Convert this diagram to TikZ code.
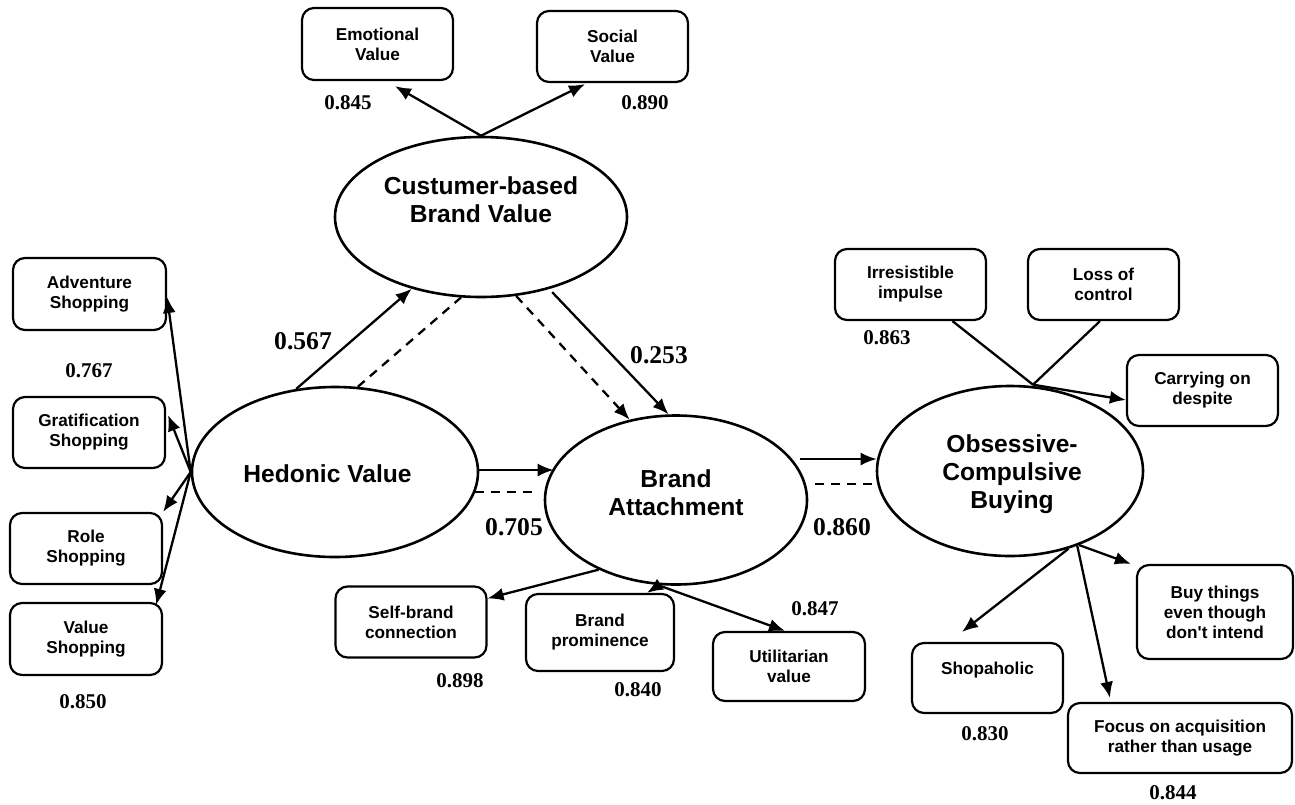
\documentclass[tikz,border=0pt]{standalone}
\usepackage{fontspec}
\setmainfont{Liberation Serif}
\setsansfont{Liberation Sans}[Ligatures=TeXOff]
\usetikzlibrary{arrows.meta,shapes.geometric}

\begin{document}
\begin{tikzpicture}[x=0.5pt,y=-0.5pt,
  ind/.style={draw,line width=1.1pt,rounded corners=6pt,align=center,inner sep=0pt,
    minimum width=75.5pt,minimum height=35.5pt,
    font=\sffamily\bfseries\fontsize{8.6}{10}\selectfont},
  lat/.style={draw,ellipse,line width=1.3pt,inner sep=0pt},
  lbl/.style={align=center,font=\sffamily\bfseries\fontsize{12.3}{14}\selectfont},
  num/.style={font=\bfseries\fontsize{10.5}{12}\selectfont},
  bignum/.style={font=\bfseries\fontsize{12.8}{14}\selectfont},
  arr/.style={line width=1.15pt,-{Latex[length=8pt,width=6.5pt]}},
  dsh/.style={line width=1.15pt,dash pattern=on 4.5pt off 3.5pt},
  lin/.style={line width=1.15pt}]
  \useasboundingbox (0,0) rectangle (1295,804);

  \node[lat,minimum width=146pt,minimum height=80pt,
    label={[lbl,yshift=8.5pt]center:{Custumer-based\\Brand Value}}] (cbv) at (481,217) {};
  \node[lat,minimum width=143pt,minimum height=85pt,
    label={[lbl,xshift=-3.75pt,yshift=-1pt]center:{Hedonic Value}}] (hed) at (335,472) {};
  \node[lat,minimum width=131pt,minimum height=84.5pt,
    label={[lbl,yshift=3.75pt]center:{Brand\\Attachment}}] (bat) at (676,500) {};
  \node[lat,minimum width=133pt,minimum height=85pt,
    label={[lbl,xshift=1pt,yshift=-1.5pt]center:{Obsessive-\\Compulsive\\Buying}}] (ocb) at (1010,471) {};

  \node[ind,minimum height=36pt] (emo) at (377.5,44) {Emotional\\Value};
  \node[ind] (soc) at (612.5,46.5) {Social\\Value};
  \node[ind,minimum width=76.5pt,minimum height=36pt] (adv) at (89.5,294) {Adventure\\Shopping};
  \node[ind,minimum width=76pt] (gra) at (89,432.5) {Gratification\\Shopping};
  \node[ind,minimum width=76pt] (rol) at (86,548.5) {Role\\Shopping};
  \node[ind,minimum width=76pt,minimum height=36pt] (val) at (86,639) {Value\\Shopping};
  \node[ind] (sbc) at (411,622) {Self-brand\\connection};
  \node[ind,minimum width=74pt,minimum height=38.5pt] (bpr) at (600,632.5) {Brand\\prominence};
  \node[ind,minimum width=76pt,minimum height=34.5pt] (uti) at (789,666.5) {Utilitarian\\value};
  \node[ind] (irr) at (910.5,284.5) {Irresistible\\impulse};
  \node[ind] (los) at (1103.5,284.5) {Loss of\\control};
  \node[ind] (car) at (1202.5,390.5) {Carrying on\\despite};
  \node[ind,minimum width=78pt,minimum height=47pt] (buy) at (1215,612) {Buy things\\even though\\don't intend};
  \node[ind,minimum height=35pt] (sho) at (987.5,678) {Shopaholic\\~};
  \node[ind,minimum width=112pt,minimum height=35pt] (foc) at (1180,738) {Focus on acquisition\\rather than usage};

  \node[num] (n845) at (348,103) {0.845};
  \node[num] (n890) at (645,103) {0.890};
  \node[num] (n767) at (89,371) {0.767};
  \node[num] (n850) at (83,702) {0.850};
  \node[bignum] (n567) at (303,341) {0.567};
  \node[bignum] (n253) at (659,355) {0.253};
  \node[bignum] (n705) at (514,527) {0.705};
  \node[bignum] (n860) at (842,527) {0.860};
  \node[num] (n898) at (460,681) {0.898};
  \node[num] (n840) at (638,690) {0.840};
  \node[num] (n847) at (815,609) {0.847};
  \node[num] (n863) at (887,338) {0.863};
  \node[num] (n830) at (985,734) {0.830};
  \node[num] (n844) at (1173,793) {0.844};

  \draw[arr] (cbv.north) -- ([xshift=8.75pt,yshift=-2.5pt]emo.south);
  \draw[arr] (cbv.north) -- ([xshift=-13.75pt,yshift=-0.5pt]soc.south);

  \draw[arr] (hed.west) -- ([yshift=-1.5pt]adv.east);
  \draw[arr] (hed.west) -- ([xshift=1pt,yshift=8.75pt]gra.east);
  \draw[arr] (hed.west) -- (rol.north east);
  \draw[arr] (hed.west) -- ([xshift=-3.5pt,yshift=-1.5pt]val.north east);

  \draw[arr] (hed.115) -- (cbv.226);
  \draw[dsh] (hed.75) -- (cbv.256);
  \draw[arr] ([yshift=-2pt]cbv.315) -- (bat.95);
  \draw[arr,dsh] (cbv.294) -- (bat.120);
  \draw[arr] ([yshift=1pt]hed.east) -- ([xshift=5pt,yshift=15pt]bat.west);
  \draw[dsh] ([xshift=-2pt,yshift=-10pt]hed.east) -- ([xshift=-5.5pt,yshift=4pt]bat.west);
  \draw[arr] ([xshift=-4pt,yshift=20.5pt]bat.east) -- ([xshift=0.5pt,yshift=6pt]ocb.west);
  \draw[dsh] ([xshift=3.5pt,yshift=8pt]bat.east) -- ([yshift=-6.5pt]ocb.west);

  \draw[arr] (bat.222) -- ([yshift=-6.5pt]sbc.north east);
  \draw[arr] ([xshift=-9pt]bat.south) -- ([xshift=23.5pt]bpr.north);
  \draw[arr] ([xshift=-8pt]bat.south) -- ([xshift=-2pt]uti.north);

  \coordinate (ocbtop) at ([xshift=11.5pt]ocb.north);
  \draw[lin] ([xshift=21pt]irr.south) -- (ocbtop);
  \draw[lin] ([xshift=-1.75pt]los.south) -- (ocbtop);
  \draw[arr] (ocbtop) -- ([yshift=-4.75pt]car.west);
  \draw[arr] (ocb.-47) -- ([xshift=-2.5pt]buy.north west);
  \draw[arr] (ocb.-53) -- ([xshift=-12.75pt,yshift=5pt]sho.north);
  \draw[arr] (ocb.-48) -- ([xshift=-35pt,yshift=2pt]foc.north);
\end{tikzpicture}
\end{document}
